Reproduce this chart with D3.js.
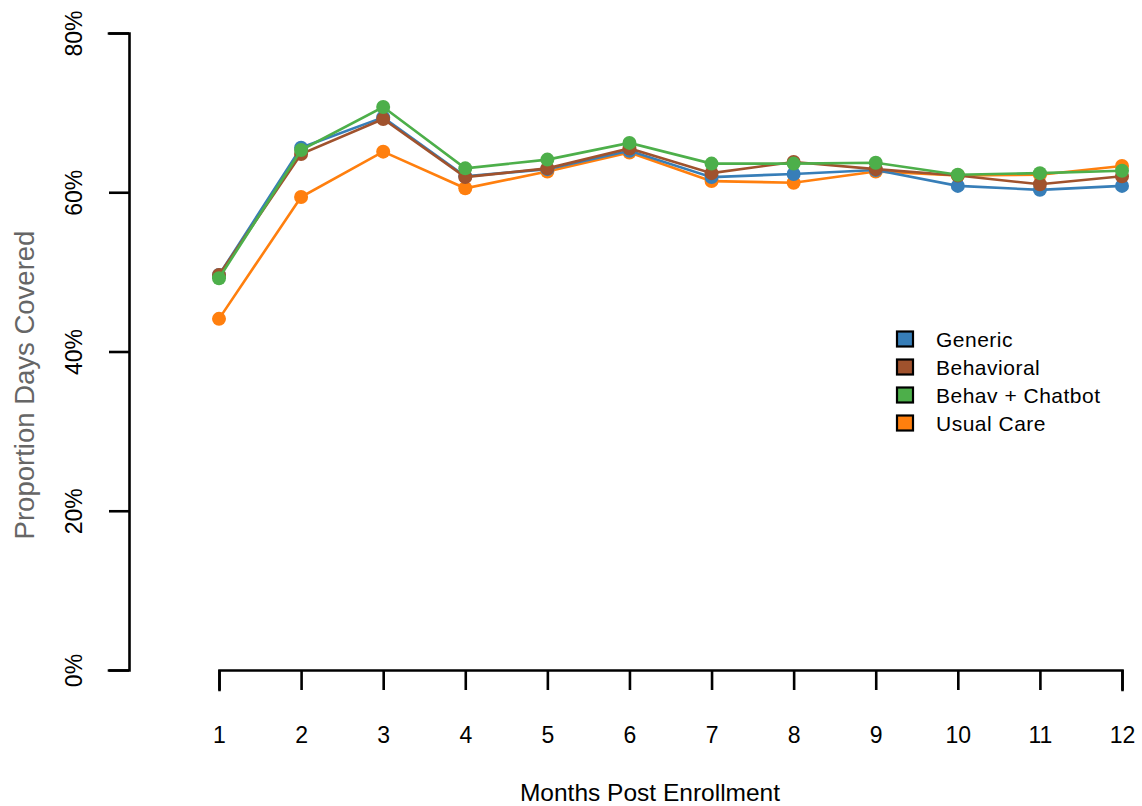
<!DOCTYPE html>
<html>
<head>
<meta charset="utf-8">
<script src="https://cdn.jsdelivr.net/npm/d3@7/dist/d3.min.js"></script>
<style>
  html, body { margin: 0; padding: 0; background: #fff; }
  svg { display: block; font-family: "Liberation Sans", Arial, sans-serif; }
</style>
</head>
<body>
<svg id="chart" width="1142" height="806"></svg>
<script>
// Months after enrollment
const months = [1, 2, 3, 4, 5, 6, 7, 8, 9, 10, 11, 12];

// Proportion of days covered (%) per arm
const generic    = [49.6, 65.6, 69.4, 62.0, 62.9, 65.2, 61.9, 62.3, 62.8, 60.8, 60.3, 60.8];
const behavioral = [49.6, 64.8, 69.2, 61.9, 63.0, 65.5, 62.4, 63.8, 62.9, 62.1, 61.0, 62.0];
const chatbot    = [49.2, 65.3, 70.7, 63.0, 64.1, 66.2, 63.6, 63.6, 63.7, 62.2, 62.4, 62.7];
const usualCare  = [44.1, 59.4, 65.1, 60.5, 62.6, 65.0, 61.4, 61.2, 62.6, 62.1, 62.2, 63.3];

const seriesNames  = ["Generic", "Behavioral", "Behav + Chatbot", "Usual Care"];
const seriesColors = ["#377eb8", "#a0522d", "#4daf4a", "#ff7f0e"];
const yTicks = [0, 20, 40, 60, 80];

const series = [
  { name: seriesNames[0], color: seriesColors[0], values: generic },
  { name: seriesNames[1], color: seriesColors[1], values: behavioral },
  { name: seriesNames[2], color: seriesColors[2], values: chatbot },
  { name: seriesNames[3], color: seriesColors[3], values: usualCare }
];
// paint order: usual care underneath, chatbot arm on top
const drawOrder = [3, 0, 1, 2];

const svg = d3.select("#chart");

const x = d3.scaleLinear().domain([1, 12]).range([219, 1122]);
const y = d3.scaleLinear().domain([0, 80]).range([670, 33]);

// y axis (left, detached)
const yAxis = svg.append("g")
  .attr("transform", "translate(129,0)")
  .call(d3.axisLeft(y).tickValues(yTicks).tickSize(20).tickPadding(0).tickFormat(d => d + "%"));
yAxis.select(".domain").attr("stroke", "#000").attr("stroke-width", 2.6);
yAxis.selectAll(".tick line").attr("stroke", "#000").attr("stroke-width", 2.6);
yAxis.selectAll(".tick text")
  .attr("fill", "#000")
  .attr("font-size", 23)
  .attr("x", 0).attr("dy", 0)
  .attr("text-anchor", "middle")
  .attr("transform", "translate(-55,0) rotate(-90)")
  .attr("dominant-baseline", "central");

// x axis (bottom, detached)
const xAxis = svg.append("g")
  .attr("transform", "translate(0,670)")
  .call(d3.axisBottom(x).tickValues(months).tickSize(20).tickPadding(0).tickFormat(d3.format("d")));
xAxis.select(".domain").attr("stroke", "#000").attr("stroke-width", 2.6);
xAxis.selectAll(".tick line").attr("stroke", "#000").attr("stroke-width", 2.6);
xAxis.selectAll(".tick text")
  .attr("fill", "#000")
  .attr("font-size", 23)
  .attr("y", 65).attr("dy", 0)
  .attr("dominant-baseline", "central");

svg.selectAll(".domain").attr("stroke-linecap", "square");

// axis titles
svg.append("text")
  .attr("x", 650).attr("y", 801)
  .attr("text-anchor", "middle")
  .attr("font-size", 24.5)
  .attr("fill", "#000")
  .text("Months Post Enrollment");

svg.append("text")
  .attr("transform", "translate(24,385) rotate(-90)")
  .attr("text-anchor", "middle")
  .attr("dominant-baseline", "central")
  .attr("font-size", 27.5)
  .attr("fill", "#666")
  .text("Proportion Days Covered");

// lines and points
const line = d3.line()
  .x((d, i) => x(months[i]))
  .y(d => y(d));

const plot = svg.append("g");
drawOrder.forEach(k => {
  const s = series[k];
  const g = plot.append("g");
  g.append("path")
    .datum(s.values)
    .attr("fill", "none")
    .attr("stroke", s.color)
    .attr("stroke-width", 2.6)
    .attr("d", line);
  g.selectAll("circle")
    .data(s.values)
    .join("circle")
    .attr("cx", (d, i) => x(months[i]))
    .attr("cy", d => y(d))
    .attr("r", 7)
    .attr("fill", s.color);
});

// legend
const legend = svg.append("g").attr("transform", "translate(897,339)");
series.forEach((s, i) => {
  const row = legend.append("g").attr("transform", `translate(0,${i * 28})`);
  row.append("rect")
    .attr("x", 0).attr("y", -7.5)
    .attr("width", 16).attr("height", 15)
    .attr("fill", s.color)
    .attr("stroke", "#000")
    .attr("stroke-width", 2.2);
  row.append("text")
    .attr("x", 39).attr("y", 0)
    .attr("dominant-baseline", "central")
    .attr("font-size", 21)
    .attr("letter-spacing", 0.5)
    .attr("fill", "#000")
    .text(s.name);
});
</script>
</body>
</html>
